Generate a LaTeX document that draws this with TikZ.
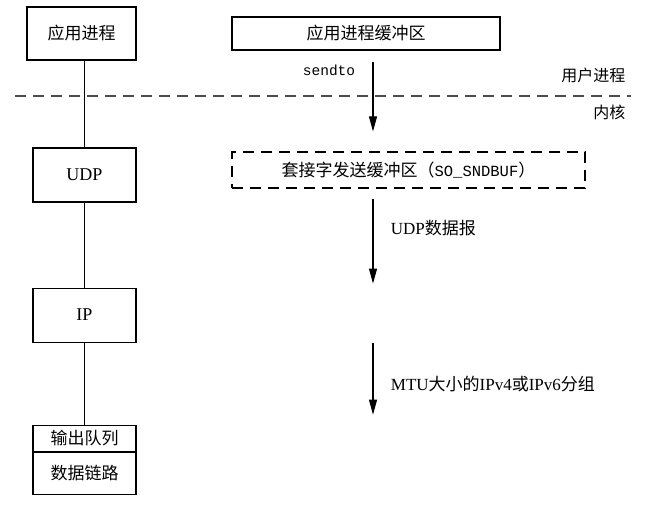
\documentclass[tikz,border=0pt]{standalone}
\usepackage{fontspec}
\setmainfont{Liberation Serif}
\setmonofont{Liberation Mono}
\newfontfamily\cjk{Noto Sans CJK SC}
\newcommand\rmtxt[1]{{\rmfamily #1}}
\usetikzlibrary{arrows.meta,positioning}

\begin{document}
\begin{tikzpicture}[
  x=1pt, y=-1pt,
  node distance=85pt,
  font=\cjk\fontsize{17}{20}\selectfont,
  box/.style={draw, line width=1.1pt, minimum width=103pt, minimum height=54pt, inner sep=0pt},
  dbox/.style={draw, line width=1.1pt, dash pattern=on 11pt off 7pt, inner sep=0pt},
  link/.style={line width=0.9pt},
  line/.style={line width=1.1pt, -{Triangle[length=15pt,width=8pt]}},
  divide/.style={line width=1.1pt, black!70, dash pattern=on 11pt off 7pt},
  latin/.style={font=\rmfamily\fontsize{18}{20}\selectfont}
]
\useasboundingbox (0,0) rectangle (650,513);

% left column: protocol stack
\node[box, minimum width=109pt, minimum height=53pt] (app) at (81.5,33.5) {应用进程};
\node[box, latin] (udp) at (84.5,175) {UDP};
\node[box, latin, below=of udp] (ip) {IP};
\node[box, minimum height=26pt, below=82pt of ip] (queue) {输出队列};
\node[box, minimum height=42pt, below=0pt of queue] (dlink) {数据链路};

\draw[link] (udp.north |- app.south) -- (udp);
\draw[link] (udp) -- (ip);
\draw[link] (ip) -- (queue);

% right column: buffers
\node[box, minimum width=268pt, minimum height=33pt] (buf) at (366,33.5) {应用进程缓冲区};
\node[dbox, minimum width=353pt, minimum height=36pt] (sock) at (408.5,170)
  {套接字发送缓冲区（{\ttfamily\fontsize{15.5}{18}\selectfont SO\_SNDBUF}）};

% user / kernel boundary
\coordinate (kl) at (15,96);
\coordinate (kr) at (631,96);
\draw[divide] (kl) -- (kr);
\node[anchor=east, font=\cjk\fontsize{16}{18}\selectfont] (user) at (629,75) {用户进程};
\node[anchor=east, font=\cjk\fontsize{16}{18}\selectfont] (kern) at (629,112) {内核};

% data flow
\coordinate (ax) at (373,0);
\draw[line, shorten <=11pt, shorten >=20pt] (buf.south -| ax) -- (sock.north -| ax)
  node[pos=0.2, left=14pt, font=\ttfamily\fontsize{14.5}{17}\selectfont] {sendto};
\draw[line, shorten <=10pt, shorten >=4pt] (sock.south -| ax) -- (ax |- ip.north)
  node[pos=0.4, right=14pt] {\rmtxt{UDP}数据报};
\draw[line, shorten >=10pt] (ax |- ip.south) -- (ax |- queue.north)
  node[pos=0.5, right=14pt] {\rmtxt{MTU}大小的\rmtxt{IPv4}或\rmtxt{IPv6}分组};
\end{tikzpicture}
\end{document}
